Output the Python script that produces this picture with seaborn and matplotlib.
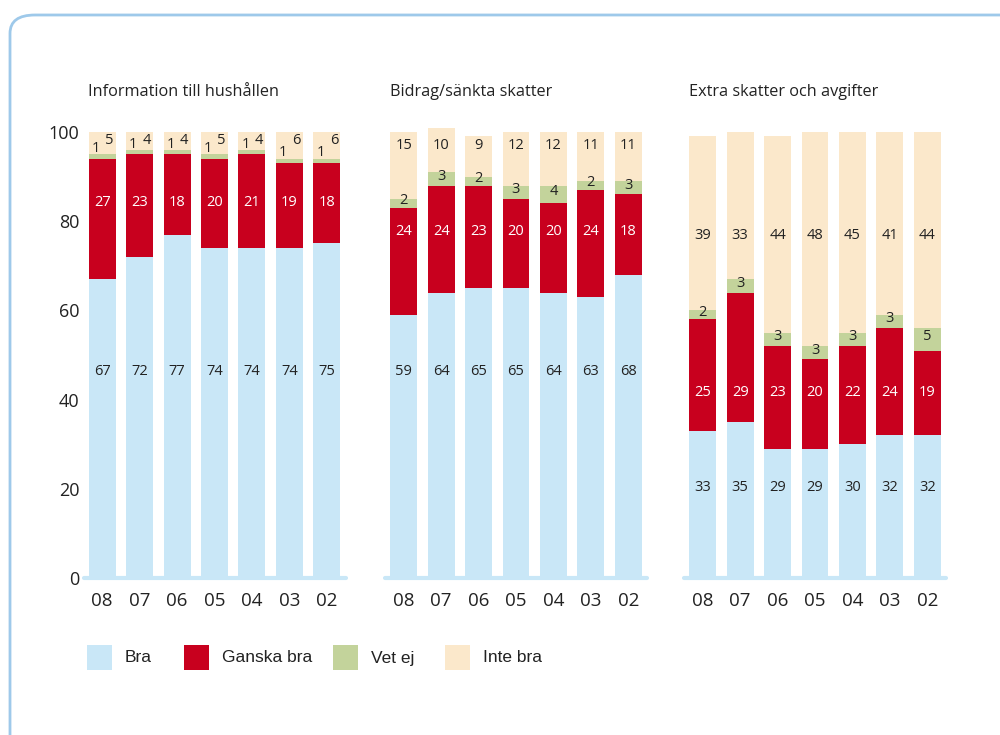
import matplotlib
matplotlib.use('Agg')
import matplotlib.pyplot as plt
from matplotlib.patches import Rectangle, FancyBboxPatch
import seaborn as sns
import numpy as np

years = ['08', '07', '06', '05', '04', '03', '02']
titles = ['Information till hushållen', 'Bidrag/sänkta skatter', 'Extra skatter och avgifter']
categories = ['Bra', 'Ganska bra', 'Vet ej', 'Inte bra']

# panel 1: Information till hushållen
info_bra = [67, 72, 77, 74, 74, 74, 75]
info_ganska = [27, 23, 18, 20, 21, 19, 18]
info_vetej = [1, 1, 1, 1, 1, 1, 1]
info_inte = [5, 4, 4, 5, 4, 6, 6]

# panel 2: Bidrag/sänkta skatter
bidrag_bra = [59, 64, 65, 65, 64, 63, 68]
bidrag_ganska = [24, 24, 23, 20, 20, 24, 18]
bidrag_vetej = [2, 3, 2, 3, 4, 2, 3]
bidrag_inte = [15, 10, 9, 12, 12, 11, 11]

# panel 3: Extra skatter och avgifter
extra_bra = [33, 35, 29, 29, 30, 32, 32]
extra_ganska = [25, 29, 23, 20, 22, 24, 19]
extra_vetej = [2, 3, 3, 3, 3, 3, 5]
extra_inte = [39, 33, 44, 48, 45, 41, 44]

panels = [
    [info_bra, info_ganska, info_vetej, info_inte],
    [bidrag_bra, bidrag_ganska, bidrag_vetej, bidrag_inte],
    [extra_bra, extra_ganska, extra_vetej, extra_inte],
]

colors = ['#c9e7f7', '#c8001e', '#c3d39b', '#fbe8cb']
text_colors = ['#222222', 'white', '#222222', '#222222']

# label rows used in the original layout (Bra, Ganska bra, Inte bra) per panel
label_rows = [(46.3, 84.1, 98.2), (46.3, 77.6, 97.0), (20.2, 41.5, 76.7)]

sns.set_style('white')
plt.rcParams['font.family'] = ['Open Sans', 'DejaVu Sans']

fig = plt.figure(figsize=(10, 7.35), dpi=100)

# rounded frame
frame = FancyBboxPatch((0.010, -0.05), 1.05, 1.0296,
                       boxstyle='round,pad=0,rounding_size=0.025',
                       transform=fig.transFigure, facecolor='none',
                       edgecolor='#9ec9ea', linewidth=2, clip_on=False)
fig.patches.append(frame)

lefts = [0.0835, 0.385, 0.684]
bottom = 1 - 578 / 735
height = 102 * 4.46 / 735

for i, (series, title) in enumerate(zip(panels, titles)):
    ax = fig.add_axes([lefts[i], bottom, 0.262, height])
    cum = np.cumsum(np.array(series), axis=0)
    # draw cumulative totals from top down so layers stack
    for k in range(3, -1, -1):
        sns.barplot(x=years, y=cum[k], order=years, color=colors[k],
                    saturation=1, width=0.72, linewidth=0, ax=ax)
    ax.axhline(0, color='#c9e7f7', lw=3, zorder=5, clip_on=False)
    ax.set_ylim(0, 102)
    ax.set_xlim(-0.5, 6.5)
    for s in ax.spines.values():
        s.set_visible(False)
    ax.tick_params(axis='x', length=0, pad=10, labelsize=13.5, colors='#222222')
    if i == 0:
        ax.set_yticks([0, 20, 40, 60, 80, 100])
        ax.tick_params(axis='y', length=0, pad=3, labelsize=13, colors='#222222')
    else:
        ax.set_yticks([])
    ax.set_xlabel('')
    ax.set_ylabel('')
    ax.text(-0.37, 109, title, fontsize=11.7, ha='left', va='center', color='#222222')

    # value labels
    row_bra, row_ganska, row_inte = label_rows[i]
    for j in range(len(years)):
        base = 0
        for k in range(4):
            v = series[k][j]
            x = j
            if k == 0:
                y = row_bra
            elif k == 1:
                y = row_ganska
            elif k == 2:
                if i == 0:
                    x = j - 0.17
                    y = base + v + 1.3
                else:
                    y = base + v / 2 + 0.6
            else:
                y = row_inte
                if i == 0:
                    x = j + 0.19
            ax.text(x, y, str(v), ha='center', va='center', fontsize=10.5,
                    color=text_colors[k], zorder=6)
            base += v

# legend, drawn by hand to match the original spacing
legend_x = [87, 184, 333, 445]
for lx, c, name in zip(legend_x, colors, categories):
    fig.patches.append(Rectangle((lx / 1000, 1 - 670 / 735), 25 / 1000, 25 / 735,
                                 transform=fig.transFigure, facecolor=c,
                                 edgecolor='none'))
    fig.text((lx + 38) / 1000, 1 - 658 / 735, name, ha='left', va='center',
             fontsize=12.5, family=['Liberation Sans'], color='#222222')

fig.savefig('out.png', dpi=100)
